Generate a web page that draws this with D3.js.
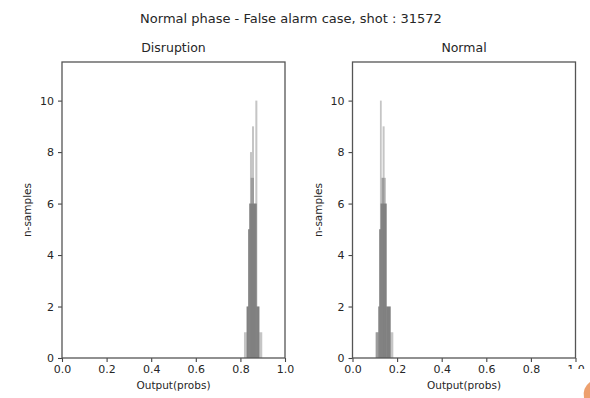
<!DOCTYPE html>
<html>
<head>
<meta charset="utf-8">
<script src="https://cdn.jsdelivr.net/npm/d3@7"></script>
<style>
  body { margin: 0; background: #fff; }
  text { font-family: "DejaVu Sans", sans-serif; fill: #262626; }
</style>
</head>
<body>
<script>
// Histogram layers: [binStart, binEnd, count]
const disruptionLayer1 = [[0.816, 0.828, 1], [0.828, 0.835, 2], [0.835, 0.840, 5], [0.840, 0.843, 6], [0.843, 0.852, 8],
    [0.852, 0.861, 7], [0.861, 0.867, 6], [0.867, 0.876, 10], [0.876, 0.885, 2], [0.885, 0.898, 1]]
const disruptionLayer2 = [[0.828, 0.835, 2], [0.835, 0.840, 5], [0.840, 0.846, 6], [0.846, 0.852, 7], [0.852, 0.861, 9],
    [0.861, 0.873, 6], [0.873, 0.885, 2]]
const disruptionLayer3 = [[0.828, 0.835, 2], [0.835, 0.840, 5], [0.840, 0.873, 6], [0.873, 0.885, 2]]

const normalLayer1 = [[0.104, 0.116, 1], [0.116, 0.120, 2], [0.120, 0.123, 5], [0.123, 0.131, 10], [0.131, 0.135, 7],
    [0.135, 0.144, 9], [0.144, 0.153, 6], [0.153, 0.171, 2], [0.171, 0.183, 1]]
const normalLayer2 = [[0.104, 0.116, 1], [0.116, 0.120, 2], [0.120, 0.126, 5], [0.126, 0.131, 6], [0.131, 0.150, 7],
    [0.150, 0.153, 6], [0.153, 0.171, 2]]
const normalLayer3 = [[0.116, 0.120, 2], [0.120, 0.126, 5], [0.126, 0.153, 6], [0.153, 0.171, 2]]

const xTicks = [0, 0.2, 0.4, 0.6, 0.8, 1.0]
const yTicks = [0, 2, 4, 6, 8, 10]

const panels = [
    { title: 'Disruption', left: 62, layers: [disruptionLayer1, disruptionLayer2, disruptionLayer3] },
    { title: 'Normal', left: 352.5, layers: [normalLayer1, normalLayer2, normalLayer3] },
]

const W = 590, H = 398
const plotW = 223, plotTop = 62, plotBottom = 358

const svg = d3.select('body').append('svg')
    .attr('width', W)
    .attr('height', H)

svg.append('text')
    .attr('x', 291).attr('y', 23)
    .attr('text-anchor', 'middle')
    .style('font-size', '13px')
    .text('Normal phase - False alarm case, shot : 31572')

const yScale = d3.scaleLinear().domain([0, 11.5]).range([plotBottom, plotTop])

panels.forEach(p => {
    const xScale = d3.scaleLinear().domain([0, 1]).range([p.left, p.left + plotW])
    const g = svg.append('g')

    // bars, one layer after another
    p.layers.forEach(layer => {
        g.selectAll(null)
            .data(layer)
            .join('rect')
            .attr('x', d => xScale(d[0]))
            .attr('width', d => xScale(d[1]) - xScale(d[0]))
            .attr('y', d => yScale(d[2]))
            .attr('height', d => yScale(0) - yScale(d[2]))
            .attr('fill', '#404040')
            .attr('fill-opacity', 0.3)
    })

    // axes
    const xAxis = g.append('g')
        .attr('transform', `translate(0,${plotBottom})`)
        .call(d3.axisBottom(xScale).tickValues(xTicks).tickFormat(d3.format('.1f')).tickSizeOuter(0).tickSize(4).tickPadding(3))
    const yAxis = g.append('g')
        .attr('transform', `translate(${p.left},0)`)
        .call(d3.axisLeft(yScale).tickValues(yTicks).tickSizeOuter(0).tickSize(4).tickPadding(4))
    ;[xAxis, yAxis].forEach(a => {
        a.select('.domain').remove()
        a.selectAll('line').attr('stroke', '#444').attr('stroke-width', 1.1)
        a.selectAll('text').style('font-size', '11px').attr('fill', '#262626')
    })

    // frame
    g.append('rect')
        .attr('x', p.left).attr('y', plotTop)
        .attr('width', plotW).attr('height', plotBottom - plotTop)
        .attr('fill', 'none')
        .attr('stroke', '#555')
        .attr('stroke-width', 1.3)

    g.append('text')
        .attr('x', p.left + plotW / 2).attr('y', 52)
        .attr('text-anchor', 'middle')
        .style('font-size', '12.5px')
        .text(p.title)

    g.append('text')
        .attr('x', p.left + plotW / 2).attr('y', 389)
        .attr('text-anchor', 'middle')
        .style('font-size', '10.5px')
        .text('Output(probs)')

    g.append('text')
        .attr('transform', `translate(${p.left - 31},${(plotTop + plotBottom) / 2}) rotate(-90)`)
        .attr('text-anchor', 'middle')
        .style('font-size', '10.5px')
        .text('n-samples')
})

// screenshot overlay in the bottom right corner
svg.append('rect')
    .attr('x', 548).attr('y', 369)
    .attr('width', 42).attr('height', 29)
    .attr('fill', '#fff')
svg.append('path')
    .attr('d', 'M590,382 Q582,388 584,398 L590,398 Z')
    .attr('fill', '#e8884a')
    .attr('opacity', 0.8)
</script>
</body>
</html>
